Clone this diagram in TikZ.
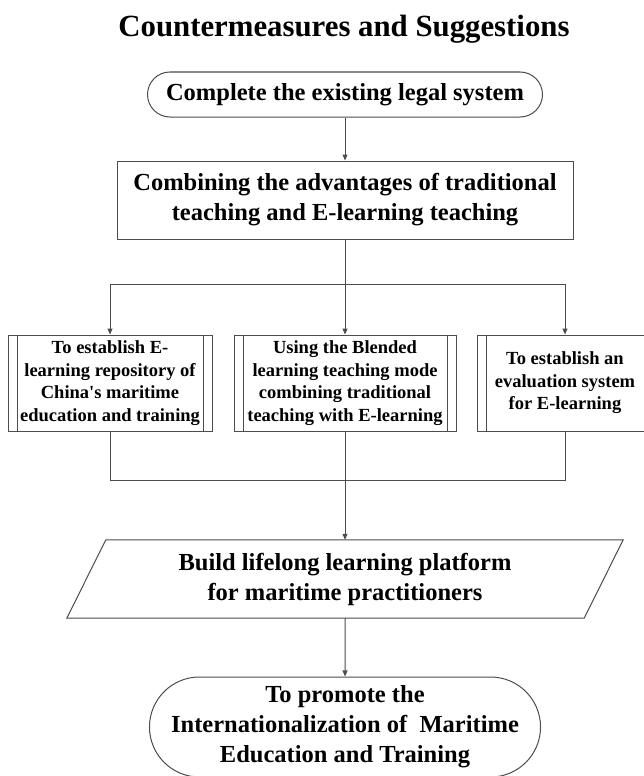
\documentclass[tikz,border=0pt]{standalone}
\usepackage{fontspec}
\setmainfont{Liberation Serif}
\usetikzlibrary{arrows.meta, shapes.misc}

\begin{document}
\begin{tikzpicture}[x=1pt, y=-1pt,
    font=\bfseries\fontsize{24.5}{30}\selectfont,
    line/.style={draw=black!70, line width=1pt},
    arr/.style={line, -{Triangle[length=6pt, width=5pt]}},
    pill/.style={line, rounded rectangle, align=center, inner sep=0pt},
    box/.style={line, rectangle, align=center, inner sep=0pt},
    proc/.style={box, minimum height=96pt, font=\bfseries\fontsize{18.5}{22.5}\selectfont,
        path picture={\draw[black!70, line width=1pt]
            ([xshift=9pt]path picture bounding box.north west) -- ([xshift=9pt]path picture bounding box.south west)
            ([xshift=-9pt]path picture bounding box.north east) -- ([xshift=-9pt]path picture bounding box.south east);}},
    para/.style={rectangle, align=center, inner sep=0pt}]
    \useasboundingbox (0,0) rectangle (643,776);
    % Heading
    \node[anchor=base, font=\bfseries\fontsize{30.8}{36}\selectfont] (title) at (344,37) {Countermeasures and Suggestions};
    % Upper chain
    \node[pill, minimum width=395pt, minimum height=45pt] (legal) at (345,94.5) {Complete the existing legal system};
    \node[box, minimum width=456pt, minimum height=78pt] (combine) at (345,200) {Combining the advantages of traditional\\teaching and E-learning teaching};
    % Three measures
    \node[proc, minimum width=204pt] (repo) at (110,383) {To establish E-\\learning repository of\\China\textquotesingle s maritime\\education and training};
    \node[proc, minimum width=222pt] (blend) at (345,383) {Using the Blended\\learning teaching mode\\combining traditional\\teaching with E-learning};
    \node[proc, minimum width=176pt] (eval) at (565,383) {To establish an\\evaluation system\\for E-learning};
    % Lower chain
    \node[para, minimum width=517pt, minimum height=78pt] (platform) at (345,579) {Build lifelong learning platform\\for maritime practitioners};
    \draw[line] ([xshift=-19.5pt]platform.south west) -- ([xshift=19.5pt]platform.north west)
        -- ([xshift=19.5pt]platform.north east) -- ([xshift=-19.5pt]platform.south east) -- cycle;
    \node[pill, minimum width=382pt, minimum height=100pt] (promote) at (345,727) {To promote the\\Internationalization of~ Maritime\\Education and Training};
    \coordinate (split) at (345,284);
    \coordinate (merge) at (345,480);
    % Connectors
    \draw[arr] (legal) -- (combine);
    \draw[line] (combine) -- (split);
    \draw[arr] (split) -- (blend);
    \draw[arr] (split) -| (repo);
    \draw[arr] (split) -| (eval);
    \draw[line] (repo) |- (merge);
    \draw[line] (eval) |- (merge);
    \draw[arr] (blend) -- (platform);
    \draw[arr] (platform) -- (promote);
\end{tikzpicture}
\end{document}
